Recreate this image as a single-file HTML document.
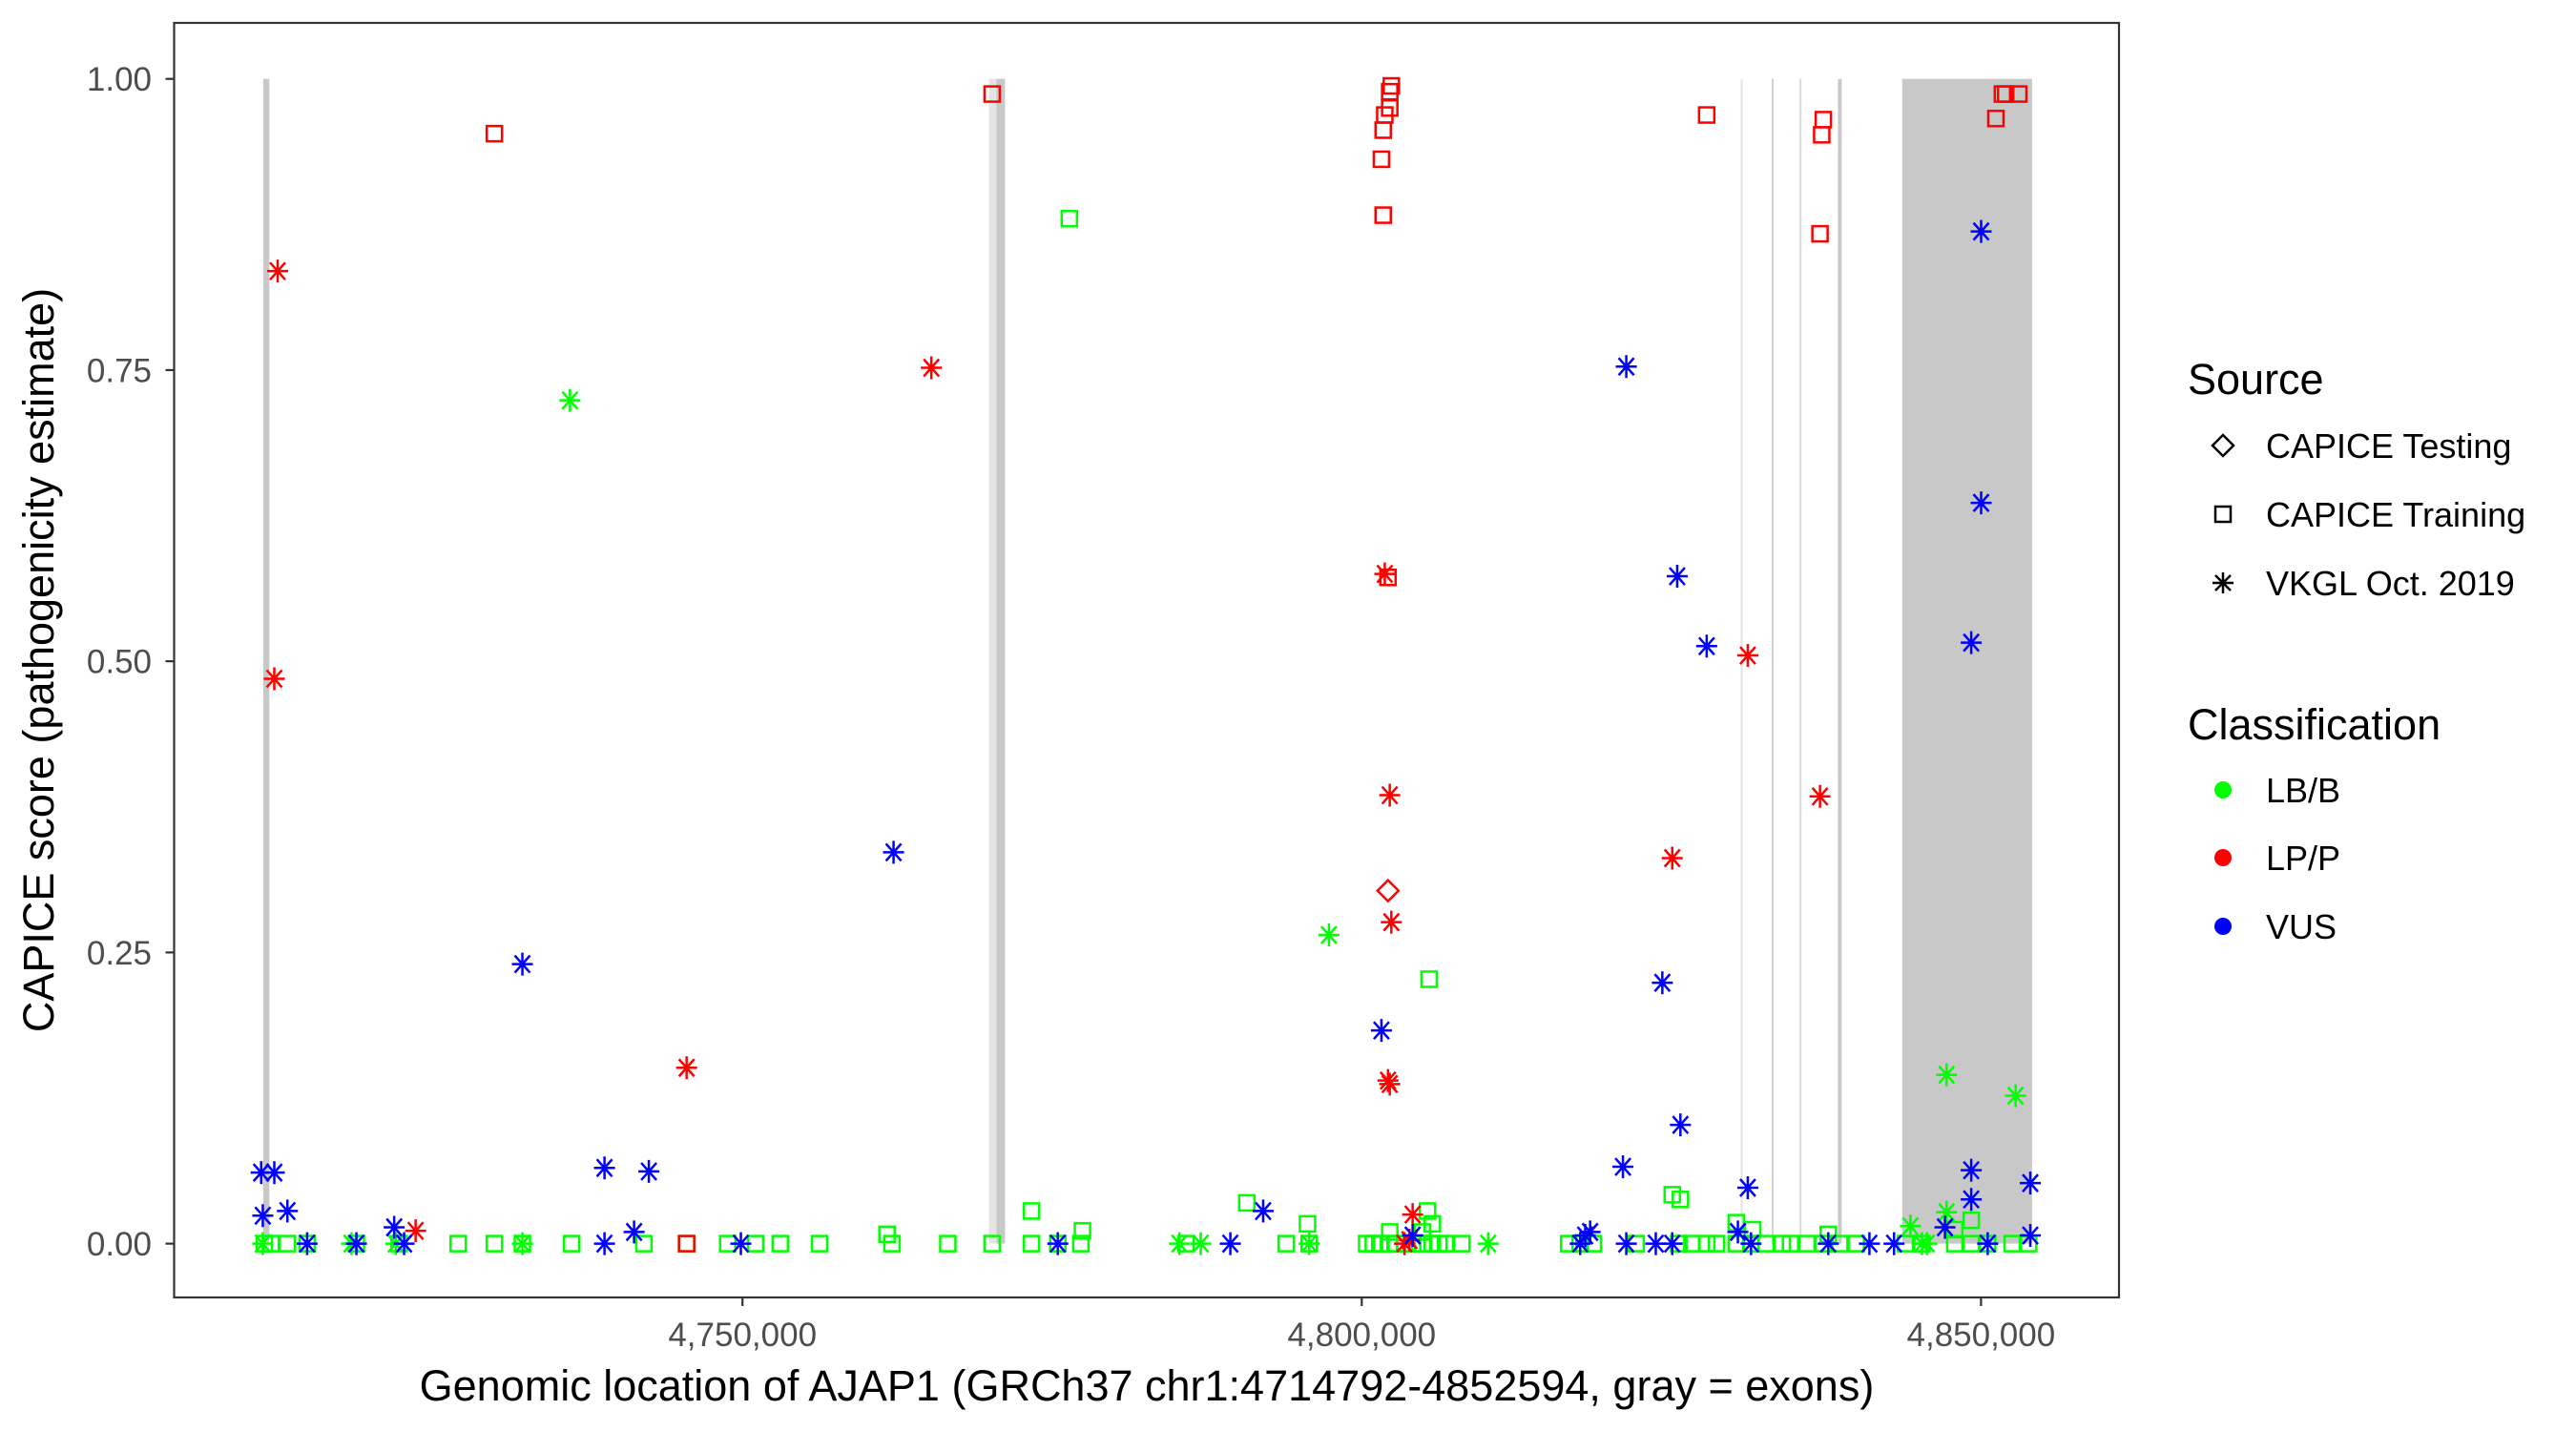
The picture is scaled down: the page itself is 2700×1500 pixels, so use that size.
<!DOCTYPE html>
<html><head><meta charset="utf-8"><style>
html,body{margin:0;padding:0;background:#fff;}
svg{display:block;font-family:"Liberation Sans",Arial,sans-serif;}
</style></head><body>
<svg id="chart" width="2700" height="1500" viewBox="0 0 2700 1500" xmlns="http://www.w3.org/2000/svg">
<rect x="0" y="0" width="2700" height="1500" fill="#fff"/>
<g id="exons"></g>
<g id="points"></g>
<rect x="182.5" y="24" width="2038.5" height="1336" fill="none" stroke="#333" stroke-width="2.2"/>
<g id="axes"></g>
<text x="1202" y="1468" font-size="45" text-anchor="middle" fill="#000">Genomic location of AJAP1 (GRCh37 chr1:4714792-4852594, gray = exons)</text>
<text transform="translate(56,692) rotate(-90)" font-size="45" text-anchor="middle" fill="#000">CAPICE score (pathogenicity estimate)</text>
<g>
<text x="2293" y="413" font-size="45" fill="#000">Source</text>
<g>
<path d="M2330,456 L2341,467 L2330,478 L2319,467 Z" fill="none" stroke="#000" stroke-width="2.5"/>
<text x="2375" y="480" font-size="36" fill="#000">CAPICE Testing</text></g>
<g>
<rect x="2322" y="531" width="16" height="16" fill="none" stroke="#000" stroke-width="2.5"/>
<text x="2375" y="552" font-size="36" fill="#000">CAPICE Training</text></g>
<g>
<path d="M2319,611 L2341,611 M2330,600 L2330,622 M2322,603 L2338,619 M2322,619 L2338,603" stroke="#000" stroke-width="2.5"/>
<text x="2375" y="624" font-size="36" fill="#000">VKGL Oct. 2019</text></g>
<text x="2293" y="775" font-size="45" fill="#000">Classification</text>
<g><circle cx="2330" cy="828" r="9" fill="#00ff00"/><text x="2375" y="841" font-size="36" fill="#000">LB/B</text></g>
<g><circle cx="2330" cy="899" r="9" fill="#ff0000"/><text x="2375" y="912" font-size="36" fill="#000">LP/P</text></g>
<g><circle cx="2330" cy="971" r="9" fill="#0000ff"/><text x="2375" y="984" font-size="36" fill="#000">VUS</text></g>
</g>
</svg>
<script>
const xTicks = [4750000, 4800000, 4850000];
const xTickLabels = ["4,750,000", "4,800,000", "4,850,000"];
const yTicks = [0, 0.25, 0.5, 0.75, 1.0];
const yTickLabels = ["0.00", "0.25", "0.50", "0.75", "1.00"];
const exonStarts = [4711300, 4769900, 4770500, 4830600, 4833100, 4835350, 4838450, 4843640];
const exonEnds   = [4711800, 4770500, 4771200, 4830700, 4833250, 4835500, 4838750, 4854120];
const exonShades = ["#c8c8c8","#e4e4e4","#c8c8c8","#e4e4e4","#d0d0d0","#d8d8d8","#c8c8c8","#c8c8c8"];

const redSqPos = [4729970,4770160,4801730,4801590,4801730,4801860,4802260,4802260,4802390,4802120,4827850,4837000,4837270,4837140,4851200,4851730,4851990,4853050,4745490];
const redSqScore = [0.953,0.987,0.883,0.931,0.956,0.969,0.975,0.989,0.994,0.572,0.969,0.867,0.965,0.952,0.966,0.987,0.987,0.987,0.0];
const redAstPos = [4712470,4712200,4765250,4745490,4723610,4801860,4802260,4802390,4802120,4802260,4804110,4831170,4837000,4825070,4803450,4803850];
const redAstScore = [0.835,0.485,0.752,0.151,0.011,0.575,0.385,0.276,0.140,0.137,0.025,0.505,0.384,0.331,0.0,0.003];
const redDiaPos = [4802120];
const redDiaScore = [0.303];
const blueAstPos = [4711140,4712200,4711270,4713260,4714850,4718830,4721880,4722680,4732230,4738860,4738860,4741250,4742440,4749870,4762200,4775460,4789390,4792040,4801590,4804110,4817640,4818040,4818440,4821360,4823740,4825070,4821360,4825470,4827850,4824270,4825730,4821090,4831170,4830370,4831430,4837670,4840990,4842980,4847090,4849210,4849210,4850010,4850010,4849210,4853980,4853980,4850540];
const blueAstScore = [0.061,0.061,0.024,0.028,0.0,0.0,0.014,0.0,0.240,0.065,0.0,0.010,0.062,0.0,0.336,0.0,0.0,0.028,0.183,0.007,0.0,0.007,0.010,0.0,0.0,0.0,0.753,0.573,0.513,0.224,0.102,0.066,0.048,0.010,0.0,0.0,0.0,0.0,0.014,0.038,0.063,0.869,0.636,0.516,0.052,0.007,0.0];
const greenAstPos = [4736070,4797350,4847220,4852790,4847220,4844300,4711270,4718430,4722010,4732230,4785280,4787000,4795760,4810210,4845230,4845630];
const greenAstScore = [0.724,0.265,0.145,0.127,0.027,0.015,0.0,0.0,0.0,0.0,0.0,0.0,0.0,0.0,0.0,0.0];
const greenSqPos = [4711400,4711940,4713260,4714850,4718830,4722280,4727050,4729970,4732230,4736210,4742040,4745490,4748810,4751060,4753050,4756230,4762070,4766580,4770160,4773340,4775460,4777320,4785810,4793900,4795760,4800400,4800930,4801460,4802260,4802790,4803450,4804110,4804910,4805700,4806230,4806770,4808090,4816710,4817640,4818700,4822150,4825600,4826660,4827850,4828650,4830240,4831430,4832630,4833950,4834620,4835940,4837270,4838600,4839930,4843900,4845230,4847880,4849210,4850540,4852520,4853850,
 4761670,4776390,4805440,4773340,4790720,4795620,4777450,4825070,4825730,4830240,4831560,4805310,4805700,4804910,4802260,4849210,4847880,4837670];
const greenSqScore = [0,0,0,0,0,0,0,0,0,0,0,0,0,0,0,0,0,0,0,0,0,0,0,0,0,0,0,0,0,0,0,0,0,0,0,0,0,0,0,0,0,0,0,0,0,0,0,0,0,0,0,0,0,0,0,0,0,0,0,0,0,
 0.008,0.880,0.227,0.028,0.035,0.017,0.011,0.042,0.038,0.018,0.012,0.028,0.017,0.010,0.010,0.020,0.012,0.008];

const NS = "http://www.w3.org/2000/svg";
const xMin = 4704111, xMax = 4861141;
const pxL = 182.5, pxR = 2221;
function xs(g){ return pxL + (g - xMin) / (xMax - xMin) * (pxR - pxL); }
function ys(v){ return 1303.6 - v * 1220.9; }
function mk(tag, attrs, parent){
  const e = document.createElementNS(NS, tag);
  for (const k in attrs) e.setAttribute(k, attrs[k]);
  parent.appendChild(e);
  return e;
}
const exG = document.getElementById('exons');
for (let i = 0; i < exonStarts.length; i++){
  const x0 = xs(exonStarts[i]), x1 = xs(exonEnds[i]);
  const r = mk('rect', {x: x0, y: ys(1), width: Math.max(x1 - x0, 2), height: ys(0) - ys(1), fill: exonShades[i]}, exG);
  
  
}
const axG = document.getElementById('axes');
for (let i = 0; i < yTicks.length; i++){
  const y = ys(yTicks[i]);
  const t = mk('line', {x1: 173.5, x2: 182.5, y1: y, y2: y, stroke: '#333', 'stroke-width': 2.2}, axG);
  
  
  const l = mk('text', {x: 159, y: y + 12.5, 'font-size': 35, 'text-anchor': 'end', fill: '#4d4d4d'}, axG);
  l.textContent = yTickLabels[i];
  
  
}
for (let i = 0; i < xTicks.length; i++){
  const x = xs(xTicks[i]);
  const t = mk('line', {x1: x, x2: x, y1: 1360, y2: 1369, stroke: '#333', 'stroke-width': 2.2}, axG);
  
  
  const l = mk('text', {x: x, y: 1411, 'font-size': 35, 'text-anchor': 'middle', fill: '#4d4d4d'}, axG);
  l.textContent = xTickLabels[i];
  
  
}
const ptG = document.getElementById('points');
function drawSq(pos, sc, col){
  for (let i = 0; i < pos.length; i++){
    const x = xs(pos[i]), y = ys(sc[i]);
    const e = mk('rect', {x: x - 8, y: y - 8, width: 16, height: 16, fill: 'none', stroke: col, 'stroke-width': 2.5}, ptG);
    
    
  }
}
function drawAst(pos, sc, col){
  for (let i = 0; i < pos.length; i++){
    const x = xs(pos[i]), y = ys(sc[i]);
    const d = `M${x-11},${y} L${x+11},${y} M${x},${y-12} L${x},${y+12} M${x-8},${y-9} L${x+8},${y+9} M${x-8},${y+9} L${x+8},${y-9}`;
    const e = mk('path', {d: d, stroke: col, 'stroke-width': 2.5, fill: 'none'}, ptG);
    
    
  }
}
function drawDia(pos, sc, col){
  for (let i = 0; i < pos.length; i++){
    const x = xs(pos[i]), y = ys(sc[i]);
    const e = mk('path', {d: `M${x},${y-11} L${x+11},${y} L${x},${y+11} L${x-11},${y} Z`, stroke: col, 'stroke-width': 2.5, fill: 'none'}, ptG);
    
    
  }
}
drawSq(greenSqPos, greenSqScore, '#00ff00');
drawAst(greenAstPos, greenAstScore, '#00ff00');
drawSq(redSqPos, redSqScore, '#ff0000');
drawAst(redAstPos, redAstScore, '#ff0000');
drawDia(redDiaPos, redDiaScore, '#ff0000');
drawAst(blueAstPos, blueAstScore, '#0000ff');
</script>
</body></html>
